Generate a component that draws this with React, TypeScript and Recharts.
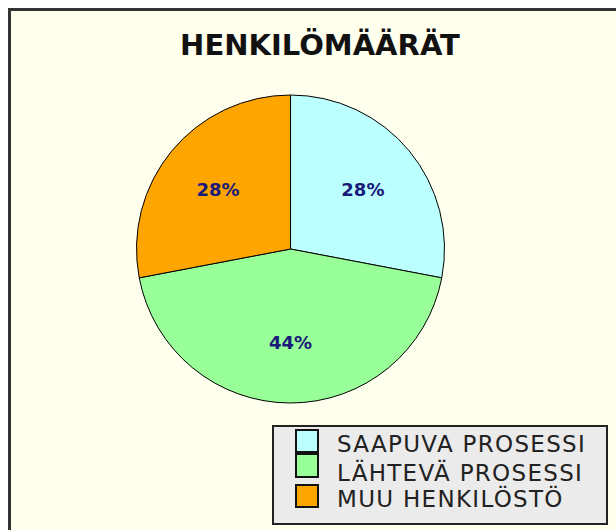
import React from "react";
import { PieChart, Pie, Cell } from "recharts";

const title = "HENKILÖMÄÄRÄT";
const categories = ["SAAPUVA PROSESSI", "LÄHTEVÄ PROSESSI", "MUU HENKILÖSTÖ"];
const shares = [28, 44, 28];
const colors = ["#BBFFFF", "#99FF99", "#FFA500"];

const data = categories.map((name, i) => ({ name, value: shares[i] }));

const W = 608;
const H = 522;
const RADIAN = Math.PI / 180;

const renderLabel = (props: any) => {
  const { cx, cy, midAngle, outerRadius, percent } = props;
  const r = outerRadius * 0.61;
  const x = cx + r * Math.cos(-midAngle * RADIAN);
  const y = cy + r * Math.sin(-midAngle * RADIAN);
  return (
    <text
      x={x}
      y={y}
      textAnchor="middle"
      dominantBaseline="central"
      fill="#1a1a7a"
      fontFamily="'DejaVu Sans', sans-serif"
      fontWeight="bold"
      fontSize={18}
    >
      {`${Math.round(percent * 100)}%`}
    </text>
  );
};

const swatches = [
  { y: 422, h: 24 },
  { y: 446, h: 25 },
  { y: 477, h: 24 },
];
const textBaselines = [444, 473, 499];

export default function App() {
  return (
    <div
      style={{
        position: "absolute",
        left: 8,
        top: 8,
        width: W,
        height: H,
        background: "#FFFFEE",
        overflow: "hidden",
      }}
    >
      <PieChart
        width={W}
        height={H}
        margin={{ top: 0, right: 0, bottom: 0, left: 0 }}
        style={{ position: "absolute", left: 0, top: 0 }}
      >
        <Pie
          data={data}
          dataKey="value"
          nameKey="name"
          cx={282.5}
          cy={241}
          outerRadius={154}
          startAngle={90}
          endAngle={-270}
          stroke="#000"
          strokeWidth={1}
          label={renderLabel}
          labelLine={false}
          isAnimationActive={false}
        >
          {data.map((d, i) => (
            <Cell key={d.name} fill={colors[i]} />
          ))}
        </Pie>
      </PieChart>
      <svg
        width={W}
        height={H}
        style={{ position: "absolute", left: 0, top: 0, pointerEvents: "none" }}
      >
        <path d={`M1.5 ${H} L1.5 1.5 L${W} 1.5`} fill="none" stroke="#333" strokeWidth={3} />
        <text
          x={312}
          y={47}
          textAnchor="middle"
          fontFamily="'DejaVu Sans', sans-serif"
          fontWeight="bold"
          fontSize={29}
          fill="#111"
        >
          {title}
        </text>
        <rect x={265} y={418} width={334} height={98} fill="#EBEBEB" stroke="#222" strokeWidth={2} />
        {categories.map((c, i) => (
          <g key={c}>
            <rect
              x={288}
              y={swatches[i].y}
              width={22}
              height={swatches[i].h - 2}
              fill={colors[i]}
              stroke="#111"
              strokeWidth={2}
            />
            <text
              x={329}
              y={textBaselines[i]}
              fontFamily="'DejaVu Sans', sans-serif"
              fontSize={23}
              letterSpacing={1.3}
              fill="#222"
            >
              {c}
            </text>
          </g>
        ))}
      </svg>
    </div>
  );
}
